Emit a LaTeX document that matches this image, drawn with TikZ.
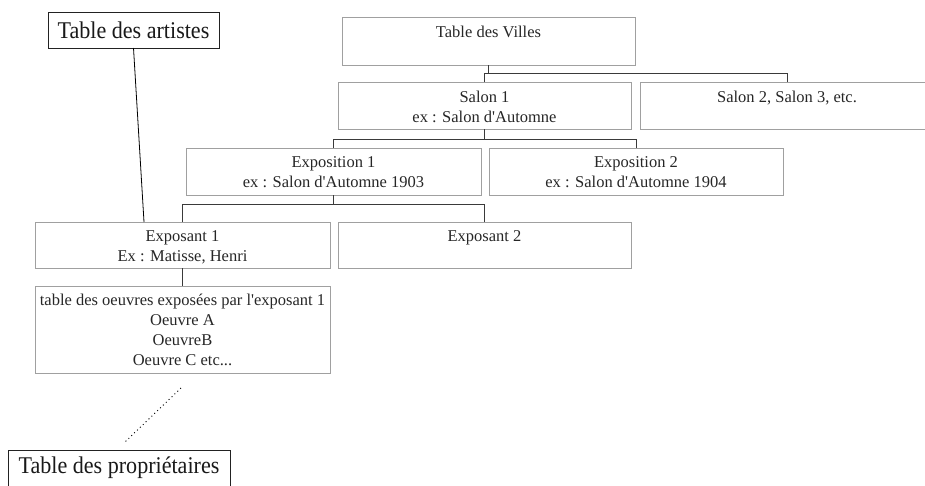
\documentclass[tikz,border=0pt]{standalone}
\usepackage{fontspec}
\usetikzlibrary{calc}
\newfontfamily\rmf{Liberation Serif}
\newfontfamily\bigf{Liberation Serif}[FakeStretch=0.92]
\definecolor{boxgray}{HTML}{A0A0A0}
\definecolor{conngray}{HTML}{3A3A3A}
\definecolor{bigline}{HTML}{222222}
\begin{document}
\begin{tikzpicture}[x=1pt,y=-1pt,
  box/.style={draw=boxgray, line width=1pt, rectangle, inner sep=0pt, outer sep=0pt, anchor=north west},
  bigbox/.style={draw=bigline, line width=0.9pt, rectangle, inner sep=0pt, outer sep=0pt, anchor=north west, font={\bigf\fontsize{24}{28}\selectfont}},
  conn/.style={draw=conngray, line width=1pt},
  lbl/.style={inner sep=0pt, anchor=base, text=black!85, font={\rmf\fontsize{16.5}{20}\selectfont}},
  biglbl/.style={inner sep=0pt, anchor=base, text=black!90, font={\bigf\fontsize{24}{28}\selectfont}}]
\path[use as bounding box, clip] (0,0) rectangle (925,485);

% boxes
\node[bigbox, minimum width=171pt, minimum height=36pt] (artistes) at (48,12) {};
\node[biglbl] (tartistes) at (artistes.center |- 0,38.5) {Table des artistes};
\node[box, minimum width=293pt, minimum height=48pt] (villes) at (342,17) {};
\node[box, minimum width=293pt, minimum height=47pt] (salon1) at (338,82) {};
\node[box, minimum width=294pt, minimum height=47pt] (salon2) at (640,82) {};
\node[box, minimum width=295pt, minimum height=47pt] (expo1) at (186,148) {};
\node[box, minimum width=294pt, minimum height=47pt] (expo2) at (489,148) {};
\node[box, minimum width=295pt, minimum height=46pt] (exposant1) at (35,222) {};
\node[box, minimum width=293pt, minimum height=46pt] (exposant2) at (338,222) {};
\node[box, minimum width=295pt, minimum height=87pt] (oeuvres) at (35,286) {};
\node[bigbox, minimum width=222pt, minimum height=50pt] (proprio) at (8,450) {};

% texts
\node[lbl] (tvilles) at (villes.center |- 0,37) {Table des Villes};
\node[lbl] (tsalon1) at (salon1.center |- 0,102) {\begin{tabular}[t]{@{}c@{}}Salon 1\\ex : Salon d'Automne\end{tabular}};
\node[lbl] (tsalon2) at (salon2.center |- 0,102) {Salon 2, Salon 3, etc.};
\node[lbl] (texpo1) at (expo1.center |- 0,167) {\begin{tabular}[t]{@{}c@{}}Exposition 1\\ex : Salon d'Automne 1903\end{tabular}};
\node[lbl] (texpo2) at (expo2.center |- 0,167) {\begin{tabular}[t]{@{}c@{}}Exposition 2\\ex : Salon d'Automne 1904\end{tabular}};
\node[lbl] (texposant1) at (exposant1.center |- 0,241) {\begin{tabular}[t]{@{}c@{}}Exposant 1\\Ex : Matisse, Henri\end{tabular}};
\node[lbl] (texposant2) at (exposant2.center |- 0,241) {Exposant 2};
\node[lbl] (toeuvres) at (oeuvres.center |- 0,305) {\begin{tabular}[t]{@{}c@{}}table des oeuvres exposées par l'exposant 1\\Oeuvre A\\OeuvreB\\Oeuvre C etc...\end{tabular}};
\node[biglbl] (tproprio) at (proprio.north |- 0,473) {Table des propriétaires};

% connectors
\draw[conn] (villes.south) -- (villes.south |- 0,73);
\draw[conn] (salon1.north) |- (salon2.north |- 0,73) -- (salon2.north);
\draw[conn] (salon1.south) -- (salon1.south |- 0,139);
\draw[conn] (expo1.north) |- (expo2.north |- 0,139) -- (expo2.north);
\draw[conn] (expo1.south) -- (expo1.south |- 0,204);
\draw[conn] (exposant1.north) |- (exposant2.north |- 0,204) -- (exposant2.north);
\draw[conn] (exposant1.south) -- (oeuvres.north);
\draw[draw=black, line width=0.8pt] (artistes.south) -- ($(exposant1.north west)+(109,0)$);
\coordinate (d1) at (181,388);
\coordinate (d2) at (125,442);
\draw[draw=black, line width=0.9pt, dash pattern=on 1pt off 3pt] (d1) -- (d2);
\end{tikzpicture}
\end{document}
